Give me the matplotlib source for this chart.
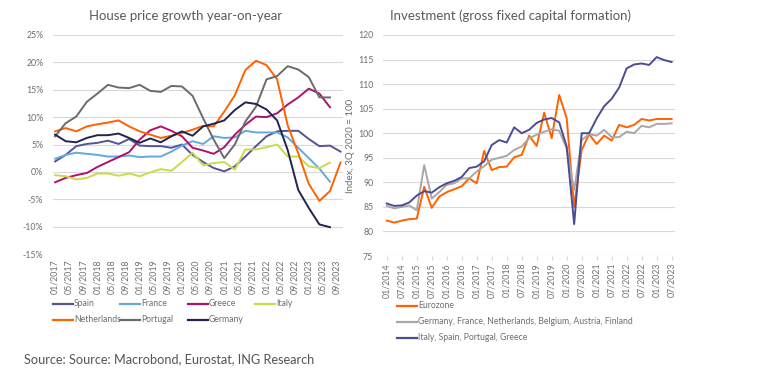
import matplotlib
matplotlib.use("Agg")
import matplotlib.pyplot as plt
import numpy as np
from matplotlib.lines import Line2D
from matplotlib.ticker import FuncFormatter

plt.rcParams['font.family'] = ['Lato', 'DejaVu Sans']

# ---- left panel: house price growth y/y (%), quarterly from 01/2017 ----
hp_months = np.arange(0, 84, 3)  # months since 01/2017

spain = [1.9, 3.1, 4.7, 5.1, 5.3, 5.7, 5.1, 6.0, 4.8, 4.7, 4.7, 4.4, 5.0, 3.1,
         1.8, 0.7, 0.1, 1.0, 2.8, 4.7, 6.5, 7.4, 7.5, 7.5, 6.0, 4.7, 4.8, 3.7]
france = [2.4, 3.1, 3.5, 3.3, 3.1, 2.8, 2.8, 3.0, 2.7, 2.8, 2.8, 3.7, 4.8, 5.6,
          5.1, 6.5, 6.2, 6.3, 7.5, 7.2, 7.2, 7.2, 6.3, 4.4, 2.5, 0.6, -1.8]
greece = [-1.9, -1.1, -0.6, -0.2, 0.9, 1.8, 2.7, 3.6, 5.9, 7.6, 8.3, 7.5, 6.5, 4.4,
          3.9, 3.3, 4.5, 6.8, 8.6, 10.1, 10.0, 10.7, 12.3, 13.6, 15.2, 14.3, 11.8]
italy = [-0.6, -0.8, -1.4, -1.1, -0.3, -0.3, -0.7, -0.3, -0.8, -0.1, 0.5, 0.2, 1.8, 3.5,
         1.2, 1.6, 1.8, 0.4, 4.1, 4.1, 4.5, 5.0, 2.8, 2.8, 1.0, 0.7, 1.7]
netherlands = [7.4, 8.0, 7.4, 8.3, 8.7, 9.0, 9.4, 8.3, 7.4, 6.8, 6.2, 6.6, 7.1, 7.7,
               8.4, 8.3, 11.0, 14.0, 18.6, 20.3, 19.5, 16.9, 8.5, 3.4, -2.2, -5.3, -3.5, 1.7]
portugal = [6.5, 8.9, 10.1, 12.8, 14.3, 15.9, 15.4, 15.3, 15.9, 14.8, 14.6, 15.7, 15.6, 13.9,
            9.8, 5.9, 2.5, 5.0, 9.2, 11.9, 16.9, 17.5, 19.3, 18.7, 17.3, 13.6, 13.6]
germany = [6.8, 5.6, 5.4, 6.2, 6.7, 6.7, 7.0, 6.2, 5.3, 6.1, 5.4, 6.5, 7.4, 6.6,
           8.3, 8.8, 9.4, 11.3, 12.7, 12.4, 11.4, 9.4, 4.0, -3.3, -6.6, -9.6, -10.1]

hp_names = ['Spain', 'France', 'Greece', 'Italy', 'Netherlands', 'Portugal', 'Germany']
hp_series = [spain, france, greece, italy, netherlands, portugal, germany]
hp_colors = ['#55539a', '#63a9dc', '#b0106e', '#c8dc48', '#ff6200', '#6b6b6b', '#23234f']
hp_ticks = np.arange(0, 81, 4)
hp_ticklabels = [f"{m % 12 + 1:02d}/{2017 + m // 12}" for m in hp_ticks]

# ---- right panel: investment index, 3Q 2020 = 100, quarterly from Q1 2014 ----
eurozone = [82.2, 81.8, 82.2, 82.5, 82.6, 89.1, 84.8, 87.1, 88.0, 88.6, 89.2, 90.8, 89.8,
            96.4, 92.5, 93.1, 93.2, 95.1, 95.6, 99.5, 97.4, 104.2, 99.0, 107.8, 103.1,
            85.0, 96.6, 99.8, 97.8, 99.5, 98.5, 101.7, 101.2, 101.7, 102.9, 102.6,
            102.9, 102.9, 102.9]
core = [85.2, 84.7, 85.0, 85.3, 84.3, 93.5, 86.7, 88.0, 89.5, 89.8, 90.8, 90.8, 92.2,
        93.3, 94.6, 95.0, 95.4, 96.6, 97.3, 99.0, 99.7, 100.3, 100.8, 100.5, 96.9,
        88.4, 98.6, 99.8, 99.5, 100.7, 99.2, 99.2, 100.3, 100.0, 101.5, 101.2,
        101.9, 101.9, 102.0]
periphery = [85.7, 85.2, 85.3, 85.9, 87.3, 88.2, 87.9, 89.0, 89.8, 90.3, 91.1, 92.9, 93.2,
             94.3, 97.6, 98.6, 98.1, 101.2, 100.0, 100.7, 102.1, 102.8, 103.1, 102.2, 97.3,
             81.5, 100.0, 100.0, 103.0, 105.5, 107.0, 109.3, 113.2, 114.0, 114.2, 113.9,
             115.5, 114.9, 114.5]

inv_names = ['Eurozone', 'Germany, France, Netherlands, Belgium, Austria, Finland',
             'Italy, Spain, Portugal, Greece']
inv_series = [eurozone, core, periphery]
inv_colors = ['#ff6200', '#a8a8a8', '#4c4c96']
inv_x = np.arange(len(eurozone))
inv_ticks = np.arange(0, len(eurozone), 2)
inv_ticklabels = [f"{'01' if i % 4 == 0 else '07'}/{2014 + i // 4}" for i in inv_ticks]

GRID = '#d9d9d9'
TXT = '#6e6e6e'
W, H = 778, 377

fig = plt.figure(figsize=(W / 100, H / 100), dpi=100)


def fx(px):
    return px / W


def fy(py):
    return 1 - py / H


# left chart
ax1 = fig.add_axes([fx(53), fy(254), 290 / W, 219 / H])
for vals, col in zip(hp_series, hp_colors):
    ax1.plot(hp_months[:len(vals)], vals, color=col, lw=1.4)
ax1.set_ylim(-15, 25)
ax1.set_yticks(np.arange(-15, 26, 5))
ax1.yaxis.set_major_formatter(FuncFormatter(lambda v, p: f"{v:.0f}%"))
ax1.set_xlim(-0.6, 81.7)
ax1.set_xticks(hp_ticks)
ax1.set_xticklabels(hp_ticklabels, rotation=90)

# right chart
ax2 = fig.add_axes([fx(383), fy(256), 292 / W, 221 / H])
for vals, col in zip(inv_series, inv_colors):
    ax2.plot(inv_x, vals, color=col, lw=1.4)
ax2.set_ylim(75, 120)
ax2.set_yticks(np.arange(75, 121, 5))
ax2.set_xlim(-0.5, 38.45)
ax2.set_xticks(inv_ticks)
ax2.set_xticklabels(inv_ticklabels, rotation=90)
ax2.set_ylabel('Index, 3Q 2020 = 100', fontsize=7, color=TXT, labelpad=2)

for ax in (ax1, ax2):
    for s in ax.spines.values():
        s.set_visible(False)
    ax.grid(axis='y', color=GRID, lw=0.8)
    ax.set_axisbelow(True)
    ax.tick_params(axis='y', length=0, labelsize=6.3, labelcolor=TXT, pad=7)
    ax.tick_params(axis='x', length=0, labelsize=6.3, labelcolor=TXT, pad=4)
ax2.tick_params(axis='x', length=3, color=GRID, pad=2)

fig.text(fx(186), fy(16), 'House price growth year-on-year', ha='center',
         va='center', fontsize=9.5, color='#5a5a5a')
fig.text(fx(510), fy(16), 'Investment (gross fixed capital formation)', ha='center',
         va='center', fontsize=9.5, color='#5a5a5a')


def legend_entry(x0, y0, color, label):
    fig.add_artist(Line2D([fx(x0), fx(x0 + 20)], [fy(y0), fy(y0)],
                          transform=fig.transFigure, color=color, lw=1.6))
    fig.text(fx(x0 + 21), fy(y0), label, ha='left', va='center',
             fontsize=6.2, color=TXT)


# left legend: 4 columns, filled row by row
col_x = [53, 120, 188, 255]
row_y = [304, 320]
for k, (name, col) in enumerate(zip(hp_names, hp_colors)):
    legend_entry(col_x[k % 4], row_y[k // 4], col, name)

# right legend: one column
inv_row_y = [306, 322, 338]
for name, col, ry in zip(inv_names, inv_colors, inv_row_y):
    legend_entry(397, ry, col, name)

fig.text(fx(24), fy(359), 'Source: Source: Macrobond, Eurostat, ING Research',
         ha='left', va='center', fontsize=9.2, color='#555555')

fig.savefig('out.png', dpi=100)
